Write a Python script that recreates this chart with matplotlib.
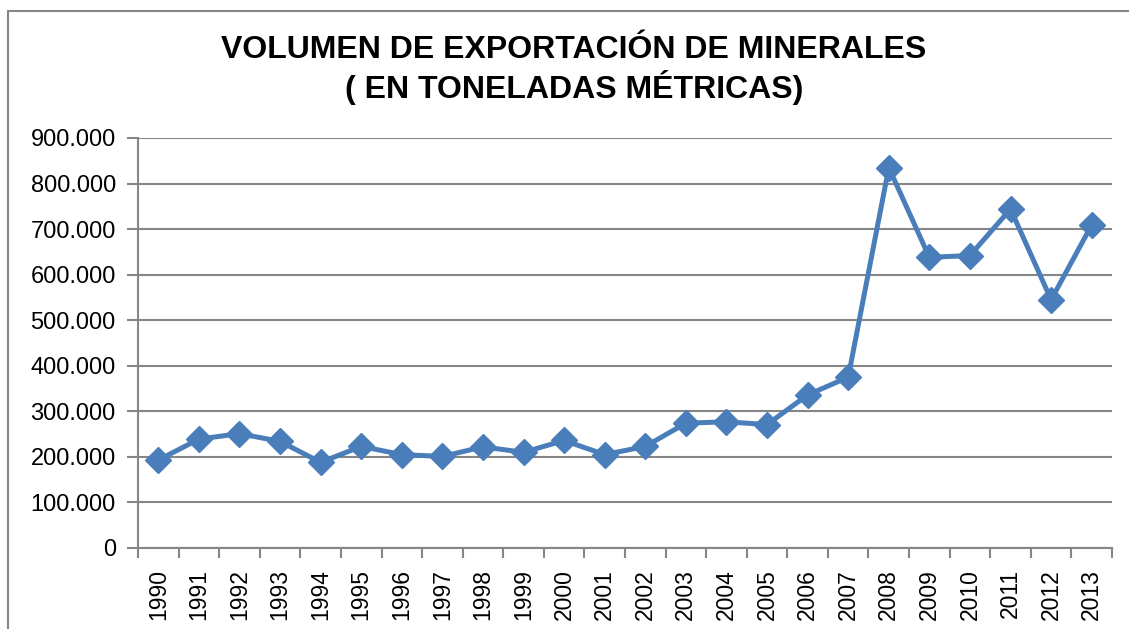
import matplotlib.pyplot as plt
from matplotlib.ticker import FuncFormatter, FixedLocator
from matplotlib.patches import Rectangle

plt.rcParams['font.family'] = ['Liberation Sans', 'DejaVu Sans']

years = [str(y) for y in range(1990, 2014)]
volumen = [193000, 239000, 251000, 234000, 188000, 223000, 205000, 201000,
           222000, 210000, 236000, 205000, 223000, 274000, 277000, 271000,
           336000, 375000, 835000, 638000, 642000, 744000, 545000, 709000]

line_color = '#4A7EBB'
grid_color = '#868686'


def miles(v, pos):
    return '{:,.0f}'.format(v).replace(',', '.')


fig = plt.figure(figsize=(11.29, 6.29), dpi=100)
ax = fig.add_axes([138 / 1129, 1 - 548 / 629, (1112 - 138) / 1129, (548 - 138) / 629])

x = list(range(len(years)))
ax.plot(x, volumen, color=line_color, lw=3.6, marker='D', ms=13,
        markerfacecolor=line_color, markeredgecolor=line_color, zorder=3)

ax.set_xlim(-0.5, len(years) - 0.5)
ax.set_ylim(0, 900000)
ax.set_yticks(range(0, 900001, 100000))
ax.yaxis.set_major_formatter(FuncFormatter(miles))
ax.grid(axis='y', color=grid_color, lw=1.5)
ax.set_axisbelow(True)

ax.set_xticks(x)
ax.set_xticklabels(years, rotation=90)
ax.tick_params(axis='x', which='major', length=0, pad=15, labelsize=16.5)
ax.xaxis.set_minor_locator(FixedLocator([i - 0.5 for i in range(len(years) + 1)]))
ax.tick_params(axis='x', which='minor', length=7, width=1.5, color=grid_color)
ax.tick_params(axis='y', length=8, width=1.5, color=grid_color, labelsize=17, pad=8)

for s in ['top', 'right']:
    ax.spines[s].set_visible(False)
for s in ['left', 'bottom']:
    ax.spines[s].set_color(grid_color)
    ax.spines[s].set_linewidth(1.5)

fig.text(574 / 1129, 1 - 70 / 629, 'VOLUMEN DE EXPORTACIÓN DE MINERALES\n( EN TONELADAS MÉTRICAS)',
         ha='center', va='center', fontsize=23, fontweight='bold', linespacing=1.15)

fig.patches.append(Rectangle((8 / 1129, -0.1), 1.2, 1 - 11 / 629 + 0.1,
                             transform=fig.transFigure, fill=False,
                             edgecolor=grid_color, lw=1.5))

fig.savefig('out.png', dpi=100)
